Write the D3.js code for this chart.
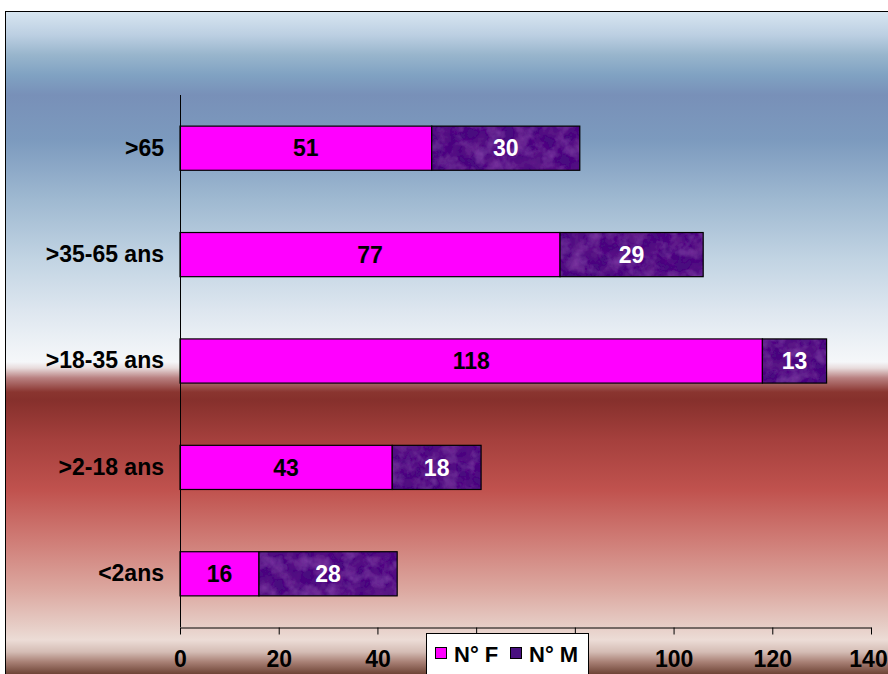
<!DOCTYPE html>
<html><head><meta charset="utf-8">
<script src="https://cdn.jsdelivr.net/npm/d3@7"></script>
<style>html,body{margin:0;padding:0;background:#fff;}svg{display:block;font-family:"Liberation Sans",Arial,sans-serif;}</style>
</head><body>
<svg id="c" width="888" height="674"></svg>
<script>
const categories = [">65", ">35-65 ans", ">18-35 ans", ">2-18 ans", "<2ans"];
const femmes = [51, 77, 118, 43, 16];
const hommes = [30, 29, 13, 18, 28];
const xTicks = [0, 20, 40, 60, 80, 100, 120, 140];
const seriesNames = ["N° F", "N° M"];

const svg = d3.select("#c");
const defs = svg.append("defs");

// background gradient (absolute y positions)
const bgStops = [
  [11,"#d8e6f1"],[35,"#bccfe2"],[55,"#98b5cc"],[75,"#80a2c2"],[95,"#7890b8"],
  [140,"#7c9abe"],[200,"#9fb9d1"],[260,"#c2d4e3"],[310,"#dde6ef"],[345,"#eef2f6"],
  [362,"#f5f7f9"],[368,"#e8dcdc"],[378,"#b88080"],[392,"#8a3530"],[400,"#86302c"],
  [440,"#a5403d"],[490,"#c0524e"],[540,"#cf7c76"],[590,"#dca8a0"],[625,"#e6ccc5"],
  [640,"#ecdcd6"],[652,"#d4bcb4"],[662,"#a88075"],[674,"#6e4436"]
];
const g0 = 11, g1 = 674;
const grad = defs.append("linearGradient").attr("id","bg")
  .attr("gradientUnits","userSpaceOnUse").attr("x1",0).attr("x2",0).attr("y1",g0).attr("y2",g1);
bgStops.forEach(s => grad.append("stop").attr("offset",(s[0]-g0)/(g1-g0)).attr("stop-color",s[1]));

// subtle texture filter for the purple bars
const f = defs.append("filter").attr("id","tex").attr("x",0).attr("y",0).attr("width",1).attr("height",1);
f.append("feTurbulence").attr("type","fractalNoise").attr("baseFrequency","0.07").attr("numOctaves",3).attr("seed",7).attr("result","n");
f.append("feColorMatrix").attr("in","n").attr("type","matrix")
  .attr("values","0 0 0 0 0.40  0 0 0 0 0.10  0 0 0 0 0.60  0.8 0 0 0 -0.33").attr("result","c");
f.append("feComposite").attr("in","c").attr("in2","SourceGraphic").attr("operator","in").attr("result","t");
f.append("feColorMatrix").attr("in","n").attr("type","matrix")
  .attr("values","0 0 0 0 0.16  0 0 0 0 0.02  0 0 0 0 0.28  0 1.0 0 0 -0.38").attr("result","d");
f.append("feComposite").attr("in","d").attr("in2","SourceGraphic").attr("operator","in").attr("result","t2");
const fm = f.append("feMerge");
fm.append("feMergeNode").attr("in","SourceGraphic");
fm.append("feMergeNode").attr("in","t");
fm.append("feMergeNode").attr("in","t2");

svg.append("rect").attr("x",5.5).attr("y",11.5).attr("width",900).attr("height",700)
  .attr("fill","url(#bg)").attr("stroke","#000").attr("stroke-width",1);

const x = d3.scaleLinear().domain([0,140]).range([180,871]);
const y = d3.scaleBand().domain(categories).range([95,627]).paddingInner(0.585).paddingOuter(0.2925);

const rows = categories.map((c,i) => ({c, f: femmes[i], m: hommes[i]}));
const FS = 23;

const gb = svg.append("g");
rows.forEach(r => {
  gb.append("rect").attr("x",x(0)).attr("y",y(r.c)).attr("width",x(r.f)-x(0)).attr("height",y.bandwidth())
    .attr("fill","#ff00ff").attr("stroke","#000").attr("stroke-width",1.2);
  gb.append("rect").attr("x",x(r.f)).attr("y",y(r.c)).attr("width",x(r.f+r.m)-x(r.f)).attr("height",y.bandwidth())
    .attr("fill","#48107f").attr("filter","url(#tex)");
  gb.append("rect").attr("x",x(r.f)).attr("y",y(r.c)).attr("width",x(r.f+r.m)-x(r.f)).attr("height",y.bandwidth())
    .attr("fill","none").attr("stroke","#000").attr("stroke-width",1.2);
  gb.append("text").attr("x",(x(0)+x(r.f))/2).attr("y",y(r.c)+y.bandwidth()/2).attr("dy","0.36em")
    .attr("text-anchor","middle").attr("font-weight","bold").attr("font-size",FS).attr("fill","#000").text(r.f);
  gb.append("text").attr("x",(x(r.f)+x(r.f+r.m))/2).attr("y",y(r.c)+y.bandwidth()/2).attr("dy","0.36em")
    .attr("text-anchor","middle").attr("font-weight","bold").attr("font-size",FS).attr("fill","#fff").text(r.m);
});

// y axis
const ya = svg.append("g").attr("transform",`translate(${x(0)},0)`)
  .call(d3.axisLeft(y).tickSize(0).tickPadding(16));
ya.select(".domain").attr("d","M0.5,95V627").attr("stroke","#000");
ya.selectAll("text").attr("font-size",FS).attr("font-weight","bold").attr("fill","#000")
  .attr("font-family","Liberation Sans, Arial, sans-serif");

// legend geometry (covers some tick labels, as in the reference)
const legBox = {x: 426.5, y: 633.5, w: 162, h: 50};

// x axis
const xa = svg.append("g").attr("transform","translate(0,627.5)")
  .call(d3.axisBottom(x).tickValues(xTicks).tickSize(7).tickPadding(16).tickSizeOuter(0));
xa.select(".domain").attr("stroke","#000");
xa.selectAll("line").attr("stroke","#000");
xa.selectAll("text").attr("font-size",FS).attr("font-weight","bold").attr("fill","#000")
  .attr("font-family","Liberation Sans, Arial, sans-serif");
xa.selectAll(".tick").filter(d => x(d) > legBox.x - 5 && x(d) < legBox.x + legBox.w + 5)
  .select("text").remove();
// keep the last label inside the page
xa.selectAll(".tick").filter(d => d === xTicks[xTicks.length-1]).select("text").attr("x",-3);

// legend
const lg = svg.append("g");
lg.append("rect").attr("x",legBox.x).attr("y",legBox.y).attr("width",legBox.w).attr("height",legBox.h)
  .attr("fill","#fff").attr("stroke","#000");
const legendColors = ["#ff00ff","#48107f"];
const legendX = [435, 510];
seriesNames.forEach((n,i) => {
  lg.append("rect").attr("x",legendX[i]+0.5).attr("y",647.5).attr("width",11).attr("height",11)
    .attr("fill",legendColors[i]).attr("stroke","#000").attr("stroke-width",1);
  lg.append("text").attr("x",legendX[i]+19).attr("y",662).attr("font-size",22).attr("font-weight","bold")
    .attr("fill","#000").text(n);
});
</script>
</body></html>
